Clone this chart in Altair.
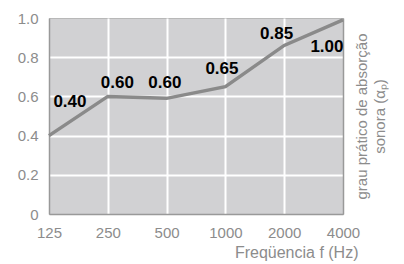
import altair as alt
import pandas as pd

freq = [125, 250, 500, 1000, 2000, 4000]
alpha = [0.40, 0.60, 0.59, 0.65, 0.86, 0.99]
labels = ["0.40", "0.60", "0.60", "0.65", "0.85", "1.00"]
label_freq = [160, 280, 490, 960, 1830, 3310]
label_alpha = [0.57, 0.67, 0.67, 0.74, 0.92, 0.85]
y_ticks = [0, 0.2, 0.4, 0.6, 0.8, 1.0]
x_grid = [250, 500, 1000, 2000]
y_grid = [0.2, 0.4, 0.6, 0.8]

df = pd.DataFrame({"freq": freq, "alpha": alpha})
lab = pd.DataFrame({"freq": label_freq, "alpha": label_alpha, "text": labels})

FONT = "Liberation Sans"
GRAY = "#8c8c8c"

line = alt.Chart(df).mark_line(color="#8a8a8a", strokeWidth=3.5).encode(
    x=alt.X("freq:Q", scale=alt.Scale(type="log", base=2, domain=[125, 4000]),
            axis=alt.Axis(values=freq, format="d", grid=False, ticks=False, tickSize=0,
                          labelFlush=False,
                          labelPadding=11, labelFontSize=15, labelColor=GRAY, labelFont=FONT,
                          domainColor="#999999", domainWidth=1.5,
                          title="Freqüencia f (Hz)", titleFont=FONT, titleFontSize=16,
                          titleFontWeight="normal", titleColor=GRAY,
                          titleX=309, titleY=43, titleAlign="right", titleBaseline="alphabetic")),
    y=alt.Y("alpha:Q", scale=alt.Scale(domain=[0, 1]),
            axis=alt.Axis(values=y_ticks, grid=False, ticks=False, tickSize=0,
                          labelFlush=False,
                          labelExpr="datum.value == 0 ? '0' : format(datum.value, '.1f')",
                          labelPadding=11, labelFontSize=15, labelColor=GRAY, labelFont=FONT,
                          domainColor="#999999", domainWidth=1.5, title=None)),
)

text = alt.Chart(lab).mark_text(font=FONT, fontSize=17, fontWeight="bold", color="black",
                                align="center", baseline="middle").encode(
    x=alt.X("freq:Q", scale=alt.Scale(type="log", base=2, domain=[125, 4000]),
            axis=alt.Axis(orient="top", values=x_grid, grid=True, gridColor="white", gridWidth=2,
                          gridOpacity=1, labels=False, ticks=False, domain=False, title=None)),
    y=alt.Y("alpha:Q", scale=alt.Scale(domain=[0, 1]),
            axis=alt.Axis(orient="right", values=y_grid, grid=True, gridColor="white", gridWidth=2,
                          gridOpacity=1, labels=False, ticks=False, tickSize=0,
                          domainColor="#999999", domainWidth=1.5,
                          title=["grau prático de absorção", "sonora (αₚ)"],
                          titleFont=FONT, titleFontSize=15, titleFontWeight="normal",
                          titleColor=GRAY, titleAngle=270, titleX=23, titleY=98,
                          titleAlign="center", titleBaseline="alphabetic", titleLineHeight=18)),
    text="text:N",
)

chart = alt.layer(line, text).resolve_scale(x="independent", y="independent").properties(
    width=294, height=196,
    autosize=alt.AutoSizeParams(type="none"),
    padding={"left": 41, "top": 10, "right": 53, "bottom": 48},
    background="white",
).configure_view(fill="#d1d1d3", stroke="#b8b8b8", strokeWidth=1)

chart.save("out.html", embed_options={"renderer": "svg", "actions": False})
